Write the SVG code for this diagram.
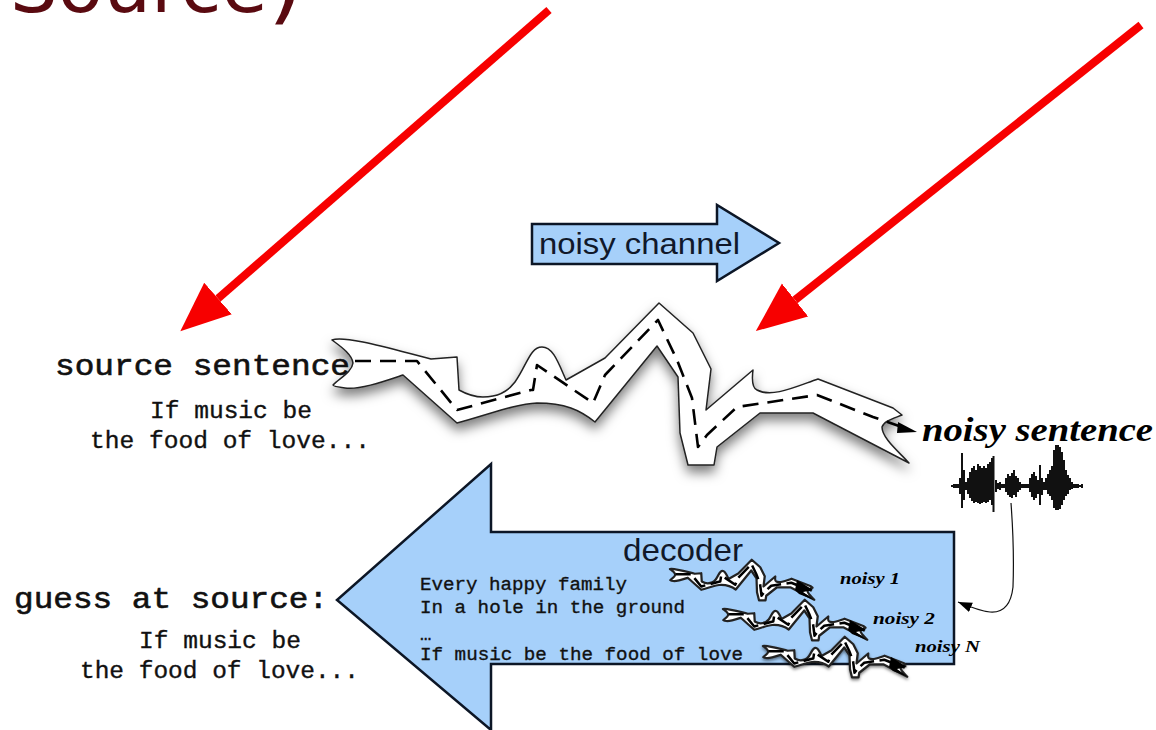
<svg xmlns="http://www.w3.org/2000/svg" width="1156" height="730" viewBox="0 0 1156 730">
<style>
.mono{font-family:"Liberation Mono","Courier New",monospace;fill:#111;stroke:#111;stroke-width:.35}
.h{font-size:30px;stroke-width:.6}
.b{font-size:24px}
.l{font-size:19px}
.sans{font-family:"Liberation Sans",Arial,sans-serif;fill:#10182a}
.script{font-family:"Liberation Serif","Times New Roman",serif;font-style:italic;font-weight:bold;fill:#000}
.blue{fill:#a6d0fa;stroke:#0c1626;stroke-width:2.5}
.red{fill:none;stroke:#f70000;stroke-width:8;marker-end:url(#redhead)}
.out{fill:#fff;stroke:#222;stroke-linejoin:round}
.dash{fill:none;stroke:#000;stroke-linejoin:round}
</style>
<defs>
<marker id="redhead" markerUnits="userSpaceOnUse" markerWidth="52" markerHeight="44" refX="0" refY="21" orient="auto"><path d="M0 0L50 21L0 42Z" fill="#f70000"/></marker>
<marker id="thin" markerUnits="userSpaceOnUse" markerWidth="15" markerHeight="12" refX="14" refY="5" orient="auto"><path d="M0 0L14 5L0 10Z" fill="#000"/></marker>
<filter id="shadow" x="-10%" y="-10%" width="120%" height="130%"><feDropShadow dx="0" dy="7" stdDeviation="6" flood-color="#000" flood-opacity="0.5"/></filter>
<path id="roadOut" d="M332 340C345 335 395 350 431 359L457 357L459 390C468 395 475 397 483 397C495 397 507 393 515 382C527 365 530 347 542 347C553 347 558 362 566 380L605 358L659 303L693 333L711 369L706 410L753 370C752 378 752 388 757 390C772 398 795 387 818 379L893 408L902 415C892 419 884 421 882 427C882 438 898 451 909 463L813 413L760 413L717 447L714 465L688 465L680 433L678 377L657 346L595 422C580 410 565 403 537 403C515 404 490 414 457 423L403 375C385 381 360 390 345 388C338 387 333 386 333 385C340 378 352 372 353 363C352 354 340 346 332 340Z"/>
<path id="roadDash" d="M355 361L417 361L457 410L531 390L533 390L537 365L593 403L605 375L658 320L677 360L692 398L698 447L707 435L737 407L817 395L873 417L899 426"/>
</defs>
<g id="title"><text x="10" y="12" font-family="'DejaVu Sans',Verdana,sans-serif" font-size="75" fill="#5a0a10">Source<tspan font-size="95">)</tspan></text></g>
<g id="connectors">
<path class="red" d="M549 10L218 298.500"/>
<path class="red" d="M1141 25L795 300"/>
<path d="M1011 503C1013 530 1014 560 1013 587C1011 605 1003 613 990 612C980 611 970 607 958 602" fill="none" stroke="#111" stroke-width="1.2" marker-end="url(#thin)"/>
</g>
<g id="noisy-channel">
<path class="blue" d="M532 224H717V205L779 243L717 281V264H532Z"/>
<text class="sans" x="539" y="254" font-size="30" textLength="201" lengthAdjust="spacingAndGlyphs">noisy channel</text>
</g>
<g id="source-sentence">
<text class="mono h" x="55" y="375" textLength="295" lengthAdjust="spacingAndGlyphs">source sentence</text>
<text class="mono b" x="150" y="418" textLength="162" lengthAdjust="spacingAndGlyphs">If music be</text>
<text class="mono b" x="90" y="448" textLength="280" lengthAdjust="spacingAndGlyphs">the food of love...</text>
</g>
<g id="road">
<g filter="url(#shadow)"><use href="#roadOut" class="out" stroke-width="1.5"/></g>
<use href="#roadDash" class="dash" stroke-width="2.6" stroke-dasharray="16 9"/>
<path d="M898 422L917 432L897 433Z" fill="#000"/>
</g>
<g id="decoder">
<path class="blue" d="M954 532H491V464L337 600L491 730V664H954Z"/>
<text class="sans" x="623" y="561" font-size="32" textLength="120" lengthAdjust="spacingAndGlyphs">decoder</text>
<text class="mono l" x="420" y="590" textLength="207" lengthAdjust="spacingAndGlyphs">Every happy family</text>
<text class="mono l" x="420" y="613" textLength="265" lengthAdjust="spacingAndGlyphs">In a hole in the ground</text>
<text class="mono l" x="420" y="640">…</text>
<text class="mono l" x="420" y="660" textLength="323" lengthAdjust="spacingAndGlyphs">If music be the food of love</text>
</g>
<g id="guess">
<text class="mono h" x="14" y="608" textLength="314" lengthAdjust="spacingAndGlyphs">guess at source:</text>
<text class="mono b" x="139" y="648" textLength="162" lengthAdjust="spacingAndGlyphs">If music be</text>
<text class="mono b" x="80" y="678" textLength="279" lengthAdjust="spacingAndGlyphs">the food of love...</text>
</g>
<g id="noisy-sentence">
<text class="script" x="922" y="441" font-size="34" textLength="231" lengthAdjust="spacingAndGlyphs">noisy sentence</text>
<path stroke="#111" stroke-width="2" fill="none" d="M952 485V487M954 484V488M956 484V488M958 484V488M960 478V494M962 453V508M964 470V500M966 482V490M968 478V494M970 472V498M972 468V501M974 466V503M976 470V502M978 464V503M980 466V504M982 468V503M984 466V502M986 468V503M988 464V502M990 462V500M992 458V505M993.500 456V512M996 480V492M998 483V489M1000 482V490M1002 484V488M1004 484V488M1006 478V492M1008 474V495M1010 476V497M1012 473V498M1014 470V495M1016 476V497M1018 478V492M1020 482V490M1022 484V488M1024 484V488M1026 484V488M1028 484V488M1030 478V492M1032 474V497M1034 472V500M1036 476V498M1038 480V494M1040 465V505M1042 478V495M1044 482V490M1046 478V490M1048 474V494M1050 470V496M1052 466V500M1054 450V508M1056 445V510M1058 445V510M1060 447V509M1062 452V505M1064 460V500M1066 470V496M1068 475V494M1070 478V490M1072 482V489M1074 484V488M1076 484V488M1078 484V488M1080 485V487M1082 484V488"/>
</g>
<g id="noisy-1">
<g transform="translate(587 484) scale(.25)"><use href="#roadOut" class="out" stroke-width="9"/><use href="#roadDash" class="dash" stroke-width="10" stroke-dasharray="60 22"/></g>
<path d="M797 580L813 590L803 592L814 600L799 594L795 590Z" fill="#000"/>
<text class="script" x="840" y="584" font-size="17" textLength="60" lengthAdjust="spacingAndGlyphs">noisy 1</text>
</g>
<g id="noisy-2">
<g transform="translate(640 524) scale(.25)"><use href="#roadOut" class="out" stroke-width="9"/><use href="#roadDash" class="dash" stroke-width="10" stroke-dasharray="60 22"/></g>
<path d="M850 620L866 630L856 632L867 640L852 634L848 630Z" fill="#000"/>
<text class="script" x="873" y="624" font-size="17" textLength="62" lengthAdjust="spacingAndGlyphs">noisy 2</text>
</g>
<g id="noisy-n">
<g transform="translate(680 561) scale(.25)" filter="url(#shadow)"><use href="#roadOut" class="out" stroke-width="9"/></g>
<g transform="translate(680 561) scale(.25)"><use href="#roadDash" class="dash" stroke-width="10" stroke-dasharray="60 22"/></g>
<path d="M891 657L907 667L897 669L908 677L893 671L889 667Z" fill="#000"/>
<text class="script" x="915" y="652" font-size="17" textLength="65" lengthAdjust="spacingAndGlyphs">noisy N</text>
</g>
</svg>
